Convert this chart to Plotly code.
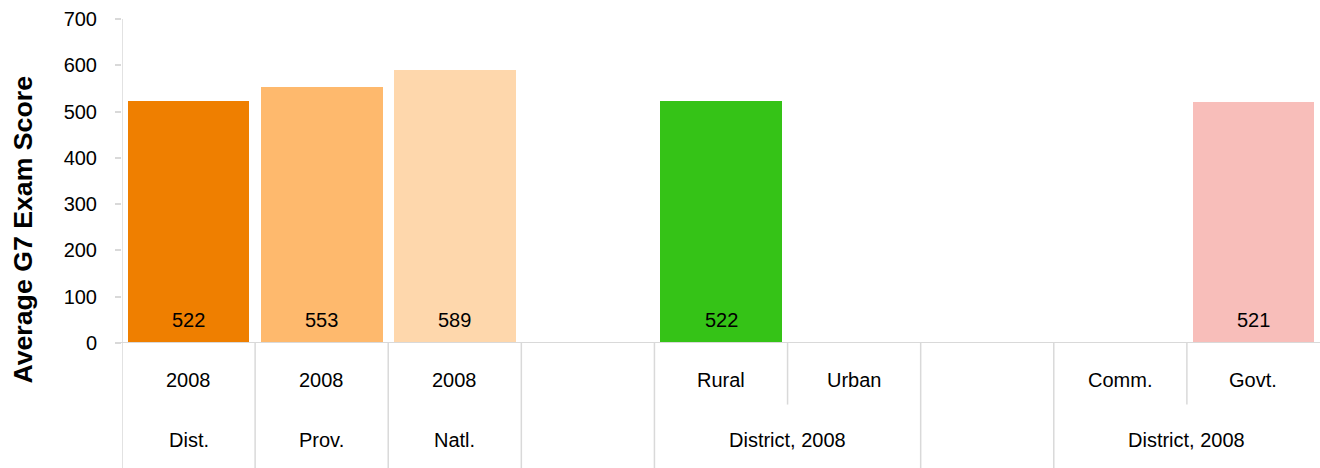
import plotly.graph_objects as go

# ---- data ----
level1_labels = ["2008", "2008", "2008", "", "Rural", "Urban", "", "Comm.", "Govt."]
level2_labels = ["Dist.", "Prov.", "Natl.", "", "District, 2008", "", "District, 2008"]
level2_spans = [1, 1, 1, 1, 2, 1, 2]
scores = [522, 553, 589, None, 522, None, None, None, 521]
bar_colors = ["#EF7F00", "#FEB96D", "#FED7AC", "#FFFFFF", "#35C317",
              "#FFFFFF", "#FFFFFF", "#FFFFFF", "#F8BEBA"]
y_ticks = [0, 100, 200, 300, 400, 500, 600, 700]

n = len(level1_labels)
centers = [i + 0.5 for i in range(n)]

FONT = "Liberation Sans, Arial, sans-serif"
GRID = "#D9D9D9"
FS = 20

fig = go.Figure()
fig.add_trace(go.Bar(
    x=centers, y=scores, width=0.915,
    marker=dict(color=bar_colors, line=dict(width=0)),
    hoverinfo="skip", showlegend=False,
))

annotations = []
shapes = []

# value labels near bar base
for c, v in zip(centers, scores):
    if v is not None:
        annotations.append(dict(x=c, y=0, xref="x", yref="y", text=str(v),
                                showarrow=False, yanchor="middle", yshift=23,
                                font=dict(family=FONT, size=FS, color="#000000")))

# level-1 labels
ROW1 = -0.114
ROW2 = -0.299
for c, t in zip(centers, level1_labels):
    if t:
        annotations.append(dict(x=c, y=ROW1, xref="x", yref="paper", text=t,
                                showarrow=False, yanchor="middle",
                                font=dict(family=FONT, size=FS, color="#000000")))

# level-2 labels and separators
BOTTOM = -0.39
MID = -0.19
pos = 0
group_edges = {0}
for t, s in zip(level2_labels, level2_spans):
    if t:
        annotations.append(dict(x=pos + s / 2, y=ROW2, xref="x", yref="paper", text=t,
                                showarrow=False, yanchor="middle",
                                font=dict(family=FONT, size=FS, color="#000000")))
    pos += s
    group_edges.add(pos)

for b in range(1, n):
    y1 = BOTTOM if b in group_edges else MID
    shapes.append(dict(type="line", xref="x", yref="paper", x0=b, x1=b, y0=0, y1=y1,
                       line=dict(color=GRID, width=1.5)))
# y-axis line extended down
shapes.append(dict(type="line", xref="x", yref="paper", x0=0, x1=0, y0=1, y1=BOTTOM,
                   line=dict(color=GRID, width=1.5)))
# x-axis baseline
shapes.append(dict(type="line", xref="paper", yref="y", x0=-0.005, x1=1, y0=0, y1=0,
                   line=dict(color=GRID, width=2)))

# y title
annotations.append(dict(x=0.0, y=0.350, xref="paper", yref="paper",
                        xshift=-116, text="<b>Average G7 Exam Score</b>",
                        textangle=-90, showarrow=False,
                        font=dict(family=FONT, size=26.7, color="#000000")))

fig.update_layout(
    width=1320, height=468,
    margin=dict(l=122, r=0, t=19, b=125, pad=0),
    plot_bgcolor="white", paper_bgcolor="white",
    bargap=0,
    xaxis=dict(range=[0, n], showticklabels=False, showgrid=False, zeroline=False,
               showline=False, ticks="", fixedrange=True),
    yaxis=dict(range=[0, 700], tickvals=y_ticks, showgrid=False, zeroline=False,
               showline=False, ticks="outside", ticklen=6, tickcolor=GRID, tickwidth=1.5,
               tickfont=dict(family=FONT, size=FS, color="#000000"), ticklabelstandoff=14,
               fixedrange=True),
    annotations=annotations,
    shapes=shapes,
)

fig.write_html("out.html", config={"displayModeBar": False})
